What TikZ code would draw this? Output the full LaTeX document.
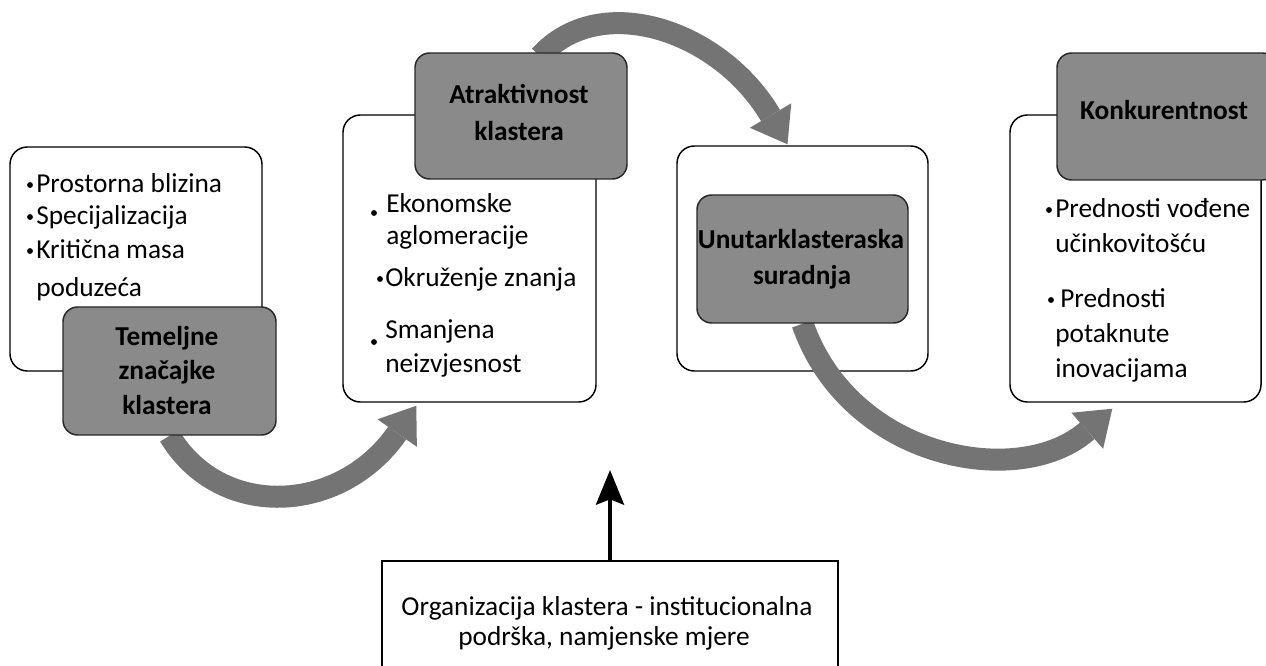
\documentclass[tikz,border=0pt]{standalone}
\usepackage{fontspec}
\setmainfont{Carlito}
\usetikzlibrary{arrows.meta,calc}
\definecolor{boxgray}{RGB}{138,138,138}
\definecolor{arrgray}{RGB}{116,116,116}
\definecolor{edgegray}{RGB}{40,40,40}
\pgfdeclarelayer{back}
\pgfdeclarelayer{mid}
\pgfsetlayers{back,mid,main}
\tikzset{
  whitebox/.style={draw=black, line width=1.1pt, fill=white, rounded corners=13pt, inner sep=0pt},
  graybox/.style={draw=edgegray, line width=1.1pt, fill=boxgray, rounded corners=11pt, inner sep=0pt},
  orgbox/.style={draw=black, line width=1.1pt, fill=white, inner sep=0pt},
  txt/.style={inner sep=0pt, font=\fontsize{20.5}{25}\selectfont, anchor=base west},
  btxt/.style={inner sep=0pt, font=\fontsize{20.5}{25}\selectfont\bfseries, anchor=base},
  ctxt/.style={inner sep=0pt, font=\fontsize{20.5}{25}\selectfont, anchor=base},
  dot/.style={circle, fill=black, inner sep=0pt, minimum size=4.4pt},
  flow/.style={arrgray, line width=16.5pt, -{Triangle[length=25pt,width=36pt,line width=0pt]}},
  push/.style={draw=black, line width=3pt, -{Stealth[length=26pt,width=21pt,inset=4pt]}}
}
\begin{document}
\begin{tikzpicture}[x=0.75pt,y=-0.75pt]
\useasboundingbox (0,0) rectangle (1266,666);
\begin{pgfonlayer}{back}
\fill[white] (0,0) rectangle (1266,666);
\node[whitebox, minimum width=189pt, minimum height=168pt] (w1) at (136,259) {};
\node[whitebox, minimum width=189.75pt, minimum height=215.25pt] (w2) at (469.5,258.5) {};
\node[whitebox, minimum width=188.25pt, minimum height=168.75pt] (w3) at (802.5,258.5) {};
\node[whitebox, minimum width=188.25pt, minimum height=215.25pt] (w4) at (1135.5,258.5) {};
\end{pgfonlayer}

% gray title boxes
\node[graybox, minimum width=159.75pt, minimum height=96pt] (g1) at (169.5,371) {};
\node[graybox, minimum width=159pt, minimum height=94.5pt] (g2) at (521,116) {};
\node[graybox, minimum width=158.25pt, minimum height=96pt] (g3) at (802.5,259) {};
\node[graybox, minimum width=165pt, minimum height=95.25pt] (g4) at (1167,116.5) {};

% bottom box
\node[orgbox, minimum width=342pt, minimum height=89.25pt] (org) at (610,620.5) {};
\coordinate (orgtip) at (610,470);
\draw[push] (org.north) -- (orgtip);

% curved flow arrows
\begin{pgfonlayer}{mid}
\draw[flow] (g1.south) .. controls (220,520) and (340,515) .. ($(w2.south west)+(74,3)$);
\draw[flow] ($(g2.north)+(19,4)$) .. controls (600,-10) and (720,30) .. ($(w3.north)+(-15,-1)$);
\draw[flow] (g3.south) .. controls (850,460) and (1020,490) .. ($(w4.south west)+(103,6)$);
\end{pgfonlayer}

% box 1 texts
\node[dot] (d1a) at (30,185) {};
\node[txt] (t1a) at (36,193) {Prostorna blizina};
\node[dot] (d1b) at (30,217) {};
\node[txt] (t1b) at (36,225) {Specijalizacija};
\node[dot] (d1c) at (30,251) {};
\node[txt] (t1c) at (36,259) {Kritična masa};
\node[txt] (t1d) at (36,297) {poduzeća};

% box 2 texts
\node[dot] (d2a) at (374,213) {};
\node[txt] (t2a) at (386,213) {Ekonomske};
\node[txt] (t2b) at (386,245) {aglomeracije};
\node[dot] (d2b) at (380,279) {};
\node[txt] (t2c) at (385,287) {Okruženje znanja};
\node[dot] (d2c) at (374,342) {};
\node[txt] (t2d) at (385,339) {Smanjena};
\node[txt] (t2e) at (385,372) {neizvjesnost};

% box 4 texts
\node[dot] (d4a) at (1049,210) {};
\node[txt] (t4a) at (1055,218) {Prednosti vođene};
\node[txt] (t4b) at (1055,253) {učinkovitošću};
\node[dot] (d4b) at (1051,300) {};
\node[txt] (t4c) at (1060,308) {Prednosti};
\node[txt] (t4d) at (1055,342) {potaknute};
\node[txt] (t4e) at (1055,378) {inovacijama};

% gray box titles
\node[btxt] (h1a) at (167,345) {Temeljne};
\node[btxt] (h1b) at (167,379) {značajke};
\node[btxt] (h1c) at (167,414) {klastera};
\node[btxt] (h2a) at (519,104) {Atraktivnost};
\node[btxt] (h2b) at (519,141) {klastera};
\node[btxt] (h3a) at (801,249) {Unutarklasteraska};
\node[btxt] (h3b) at (802,285) {suradnja};
\node[btxt] (h4a) at (1164,120) {Konkurentnost};

% bottom text
\node[ctxt] (o1) at (607,615) {Organizacija klastera - institucionalna};
\node[ctxt] (o2) at (604,645) {podrška, namjenske mjere};
\end{tikzpicture}
\end{document}
